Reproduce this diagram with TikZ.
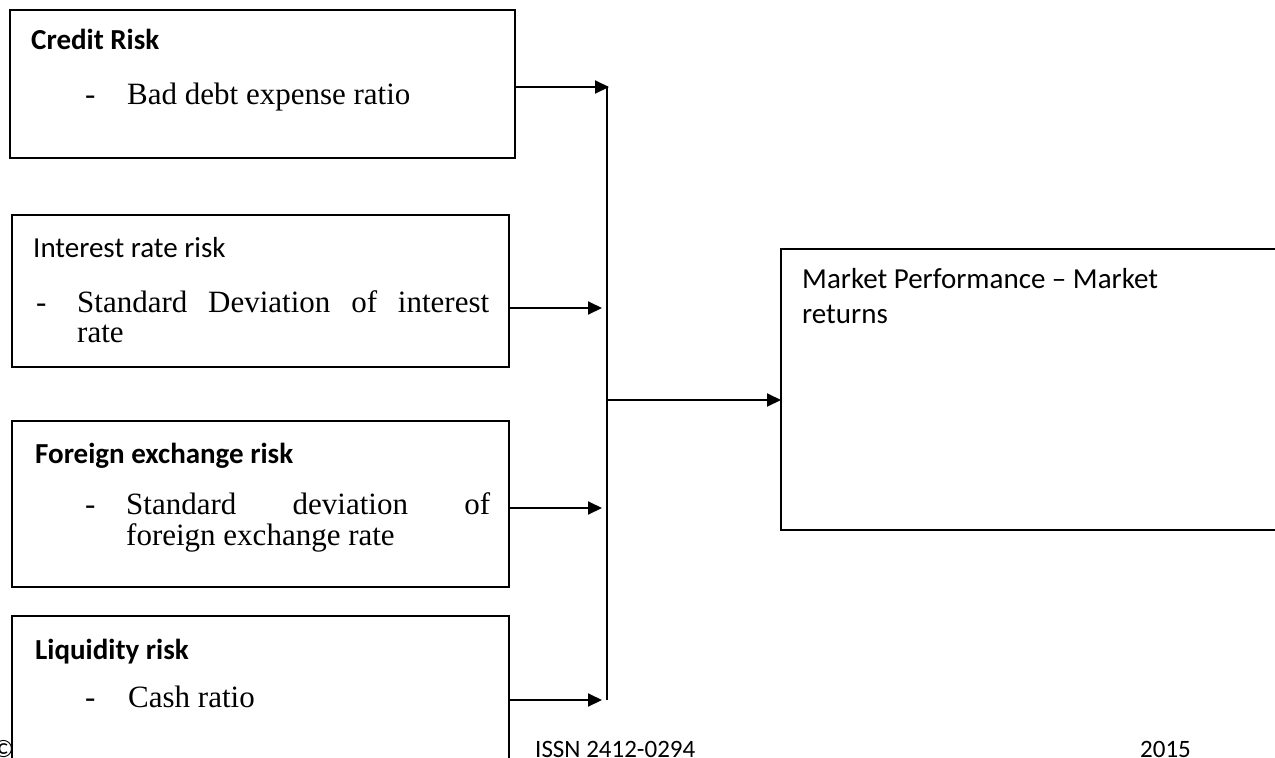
\documentclass[tikz,border=0pt]{standalone}
\usepackage{fontspec}
\setmainfont{Liberation Serif}
\setsansfont{Carlito}
\usetikzlibrary{arrows.meta}
\begin{document}
\begin{tikzpicture}[x=1pt,y=-1pt,
  boxst/.style={draw, line width=1.5pt, inner sep=0pt, outer sep=0pt, anchor=north west},
  arr/.style={line width=2pt, -{Triangle[length=14pt,width=13pt]}},
  bus/.style={line width=2pt},
  head/.style={anchor=base west, inner sep=0pt, font=\sffamily\fontsize{29}{34}\selectfont},
  headb/.style={anchor=base west, inner sep=0pt, font=\sffamily\bfseries\fontsize{29}{34}\selectfont},
  body/.style={anchor=base west, inner sep=0pt, font=\fontsize{31}{36}\selectfont},
  foot/.style={anchor=base west, inner sep=0pt, font=\sffamily\fontsize{25}{30}\selectfont},
]
\useasboundingbox (0,0) rectangle (1275,758);
\clip (0,0) rectangle (1275,758);
\fill[white] (0,0) rectangle (1275,758);

% boxes
\node[boxst, minimum width=505pt, minimum height=148pt] (b1) at (10,10) {};
\node[boxst, minimum width=497pt, minimum height=152pt] (b2) at (12,215) {};
\node[boxst, minimum width=497pt, minimum height=166pt] (b3) at (12,421) {};
\node[boxst, minimum width=497pt, minimum height=200pt] (b4) at (12,616) {};
\node[boxst, minimum width=520pt, minimum height=281pt] (m) at (781,249) {};

% texts
\node[headb] (t1) at (31,49) {Credit Risk};
\node[body] (d1) at (85,104) {-};
\node[body] (s1) at (127,104) {Bad debt expense ratio};

\node[head] (t2) at (33,257) {Interest rate risk};
\node[body] (d2) at (36,312) {-};
\node[body] (s2) at (77,312) {\makebox[412pt][s]{Standard Deviation of interest}};
\node[body] (s2b) at (77,342) {rate};

\node[headb] (t3) at (35,463) {Foreign exchange risk};
\node[body] (d3) at (85,514) {-};
\node[body] (s3) at (126,514) {\makebox[364pt][s]{Standard deviation of}};
\node[body] (s3b) at (126,545) {foreign exchange rate};

\node[headb] (t4) at (35,659) {Liquidity risk};
\node[body] (d4) at (85,707) {-};
\node[body] (s4) at (128,707) {Cash ratio};

\node[head] (tm1) at (802,288) {Market Performance -- Market};
\node[head] (tm2) at (802,323) {returns};

\node[foot] (f1) at (-7,757) {\textcopyright};
\node[foot] (f2) at (535,757) {ISSN 2412-0294};
\node[foot] (f3) at (1140,757) {2015};

% bus and connectors
\coordinate (j1) at (609,87);
\coordinate (j2) at (602,308);
\coordinate (j3) at (602,508);
\coordinate (j4) at (602,700);
\coordinate (jtop) at (607,86);
\coordinate (jbot) at (607,700);
\coordinate (jm) at (607,400);

\draw[bus] (jtop) -- (jbot);
\draw[arr] (b1.east |- j1) -- (j1);
\draw[arr] (b2.east |- j2) -- (j2);
\draw[arr] (b3.east |- j3) -- (j3);
\draw[arr] (b4.east |- j4) -- (j4);
\draw[arr] (jm) -- (m.west |- jm);
\end{tikzpicture}
\end{document}
